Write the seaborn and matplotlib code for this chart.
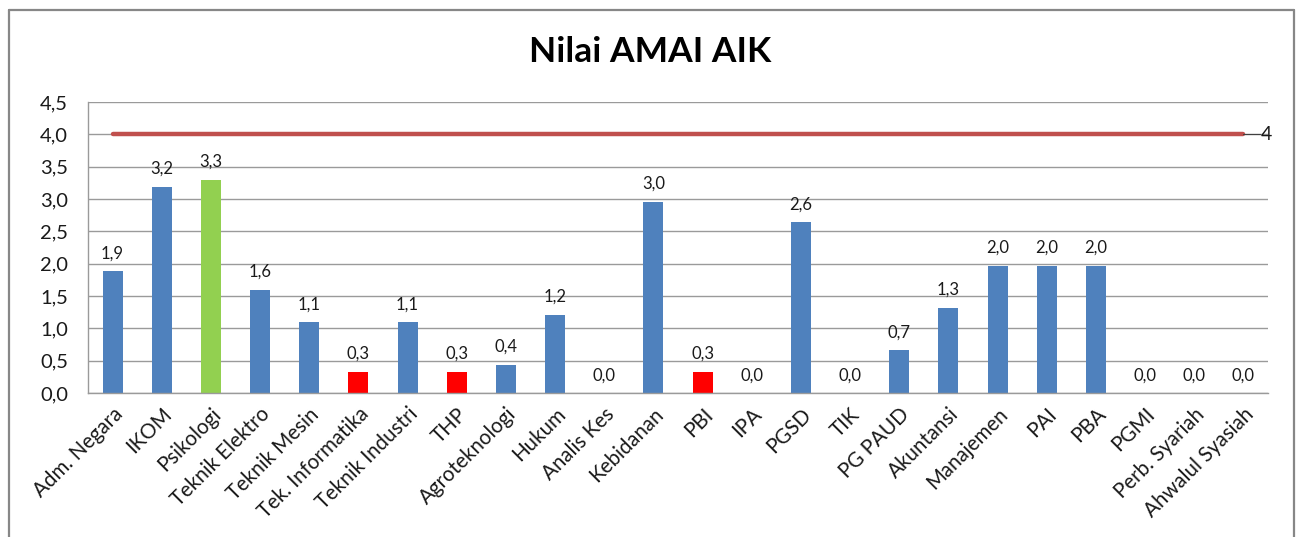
import numpy as np
import matplotlib
matplotlib.use("Agg")
import matplotlib.pyplot as plt
from matplotlib.lines import Line2D
import seaborn as sns

categories = ["Adm. Negara", "IKOM", "Psikologi", "Teknik Elektro", "Teknik Mesin",
              "Tek. Informatika", "Teknik Industri", "THP", "Agroteknologi", "Hukum",
              "Analis Kes", "Kebidanan", "PBI", "IPA", "PGSD", "TIK", "PG PAUD",
              "Akuntansi", "Manajemen", "PAI", "PBA", "PGMI", "Perb. Syariah",
              "Ahwalul Syasiah"]
values = [1.88, 3.19, 3.30, 1.60, 1.10, 0.33, 1.10, 0.33, 0.44, 1.21,
          0.0, 2.96, 0.33, 0.0, 2.64, 0.0, 0.66, 1.32, 1.97, 1.97, 1.97,
          0.0, 0.0, 0.0]
bar_colors = ["#4F81BD", "#4F81BD", "#92D050", "#4F81BD", "#4F81BD",
              "#FF0000", "#4F81BD", "#FF0000", "#4F81BD", "#4F81BD",
              "#4F81BD", "#4F81BD", "#FF0000", "#4F81BD", "#4F81BD",
              "#4F81BD", "#4F81BD", "#4F81BD", "#4F81BD", "#4F81BD",
              "#4F81BD", "#4F81BD", "#4F81BD", "#4F81BD"]
target = [4.0] * len(categories)
target_label = "4"
y_ticks = [0.0, 0.5, 1.0, 1.5, 2.0, 2.5, 3.0, 3.5, 4.0, 4.5]
title = "Nilai AMAI AIK"

sns.set_style("white")
plt.rcParams["font.family"] = ["Lato", "DejaVu Sans"]

W, H = 1297, 537
fig = plt.figure(figsize=(W / 100, H / 100), dpi=100)
ax = fig.add_axes([88 / W, 1 - 393 / H, (1268 - 88) / W, (393 - 102) / H])

sns.barplot(x=categories, y=values, hue=categories, palette=bar_colors,
            legend=False, width=0.41, ax=ax, saturation=1, linewidth=0)

n = len(categories)
pos = np.arange(n)
ax.plot(pos, target, color="#C0504D", lw=3.2, solid_capstyle="round", zorder=4)
ax.plot([n - 1, n - 1 + 0.33], [target[-1]] * 2, color="#404040", lw=0.8, zorder=4)
ax.text(n - 1 + 0.36, target[-1], target_label, ha="left", va="center",
        fontsize=14, color="#1a1a1a")

for cont in ax.containers:
    labs = [f"{b.get_height():.1f}".replace(".", ",") for b in cont]
    ax.bar_label(cont, labels=labs, padding=7, fontsize=12, color="#1a1a1a")

ax.set_xlim(-0.5, n - 0.5)
ax.set_ylim(0, 4.5)
ax.set_yticks(y_ticks)
ax.set_yticklabels([f"{t:.1f}".replace(".", ",") for t in y_ticks],
                   fontsize=14.5, color="#1a1a1a")
ax.yaxis.grid(True, color="#9a9a9a", lw=1)
ax.set_axisbelow(True)

ax.set_xticks(pos)
ax.set_xticklabels(categories, rotation=45, ha="right", va="top",
                   rotation_mode="anchor", fontsize=14.8, color="#1a1a1a")
ax.set_xticks(np.arange(n + 1) - 0.5, minor=True)
ax.tick_params(axis="x", which="major", length=0, pad=8)
ax.tick_params(axis="x", which="minor", length=5, color="#9a9a9a", width=1)
ax.tick_params(axis="y", length=5.8, color="#9a9a9a", width=1, pad=8.5)

for s in ["top", "right"]:
    ax.spines[s].set_visible(False)
for s in ["left", "bottom"]:
    ax.spines[s].set_color("#9a9a9a")
    ax.spines[s].set_linewidth(1)
ax.set_xlabel("")
ax.set_ylabel("")

fig.text(650 / W, 1 - 52 / H, title, ha="center", va="center",
         fontsize=25.5, fontweight="bold", color="black")

bc = "#878787"
fig.add_artist(Line2D([8.5 / W, 8.5 / W], [0, 1 - 10 / H], color=bc, lw=1.6))
fig.add_artist(Line2D([8.5 / W, 1293.5 / W], [1 - 10 / H, 1 - 10 / H], color=bc, lw=1.6))
fig.add_artist(Line2D([1293.5 / W, 1293.5 / W], [0, 1 - 10 / H], color=bc, lw=1.6))

fig.savefig("out.png", dpi=100)
